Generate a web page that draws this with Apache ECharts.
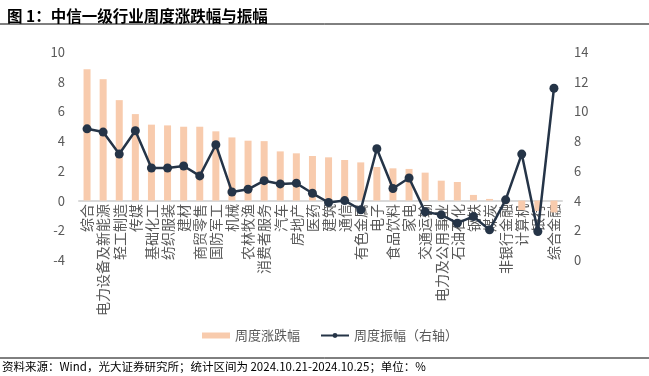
<!DOCTYPE html>
<html>
<head>
<meta charset="utf-8">
<script src="https://cdn.jsdelivr.net/npm/echarts@6/dist/echarts.min.js"></script>
<style>
  html, body { margin: 0; padding: 0; background: #fff; }
  #chart { width: 649px; height: 376px; }
</style>
</head>
<body>
<div id="chart"></div>
<script>
const industries = ['综合', '电力设备及新能源', '轻工制造', '传媒', '基础化工', '纺织服装', '建材', '商贸零售', '国防军工', '机械',
  '农林牧渔', '消费者服务', '汽车', '房地产', '医药', '建筑', '通信', '有色金属', '电子', '食品饮料',
  '家电', '交通运输', '电力及公用事业', '石油石化', '钢铁', '煤炭', '非银行金融', '计算机', '银行', '综合金融']
// 周度涨跌幅 (左轴, %)
const weeklyChange = [8.84, 8.17, 6.76, 5.82, 5.11, 5.06, 4.97, 4.97, 4.66, 4.25,
  4.03, 4.0, 3.31, 3.18, 3.0, 2.91, 2.73, 2.57, 2.26, 2.17,
  2.13, 1.88, 1.34, 1.25, 0.38, 0.11, -0.2, -0.64, -0.7, -0.8]
// 周度振幅 (右轴, %)
const weeklyAmplitude = [8.83, 8.61, 7.13, 8.70, 6.19, 6.19, 6.33, 5.66, 7.76, 4.58,
  4.76, 5.34, 5.12, 5.17, 4.49, 3.87, 4.0, 3.38, 7.49, 4.81,
  5.52, 3.24, 3.04, 2.48, 2.93, 2.03, 4.05, 7.13, 1.92, 11.56]

const font = 'Noto Sans CJK SC'
const grey = '#595959'

const chart = echarts.init(document.getElementById('chart'))
chart.setOption({
  textStyle: { fontFamily: font },
  animation: false,
  title: {
    text: '图 1：中信一级行业周度涨跌幅与振幅',
    left: 2,
    top: 3,
    textStyle: { fontSize: 15.5, fontWeight: 'bold', color: '#000', fontFamily: font }
  },
  graphic: [
    { type: 'line', shape: { x1: 0, y1: 24, x2: 649, y2: 24 }, style: { stroke: '#000', lineWidth: 1 } },
    { type: 'line', shape: { x1: 0, y1: 358, x2: 649, y2: 358 }, style: { stroke: '#000', lineWidth: 1 } },
    {
      type: 'text', left: 2, top: 361,
      style: { text: '资料来源：Wind，光大证券研究所；统计区间为 2024.10.21-2024.10.25；单位：%', fontSize: 11.5, fill: '#000', fontFamily: font }
    }
  ],
  legend: {
    top: 324,
    left: 197,
    itemGap: 20,
    textStyle: { fontSize: 13, color: grey },
    data: [
      { name: '周度涨跌幅', icon: 'rect', itemStyle: { color: '#F8CBAD' } },
      { name: '周度振幅（右轴）' }
    ],
    itemWidth: 28,
    itemHeight: 6
  },
  grid: { left: 79, right: 87, top: 52, bottom: 116, containLabel: false, outerBoundsMode: 'none' },
  xAxis: [
    {
      // 零轴线
      type: 'category',
      data: industries,
      axisLine: { onZero: true, lineStyle: { color: '#d9d9d9', width: 2 } },
      axisTick: { show: false },
      axisLabel: { show: false }
    },
    {
      // 行业标签，贴在零轴下方
      type: 'category',
      data: industries,
      position: 'bottom',
      offset: -60,
      axisLine: { show: false },
      axisTick: { show: false },
      axisLabel: {
        interval: 0,
        rotate: 90,
        fontSize: 14,
        color: grey,
        margin: 4
      }
    }
  ],
  yAxis: [
    {
      type: 'value', min: -4, max: 10, interval: 2,
      splitLine: { show: false },
      axisLine: { show: false },
      axisTick: { show: false },
      axisLabel: { fontSize: 13, color: grey, margin: 14 }
    },
    {
      type: 'value', min: 0, max: 14, interval: 2,
      splitLine: { show: false },
      axisLine: { show: false },
      axisTick: { show: false },
      axisLabel: { fontSize: 13, color: grey, margin: 12 }
    }
  ],
  series: [
    {
      name: '周度涨跌幅',
      type: 'bar',
      xAxisIndex: 0,
      yAxisIndex: 0,
      barWidth: 7,
      itemStyle: { color: '#F8CBAD' },
      data: weeklyChange
    },
    {
      name: '周度振幅（右轴）',
      type: 'line',
      xAxisIndex: 0,
      yAxisIndex: 1,
      symbol: 'circle',
      symbolSize: 9,
      lineStyle: { color: '#253447', width: 2.5 },
      itemStyle: { color: '#253447' },
      data: weeklyAmplitude
    }
  ]
})
</script>
</body>
</html>
